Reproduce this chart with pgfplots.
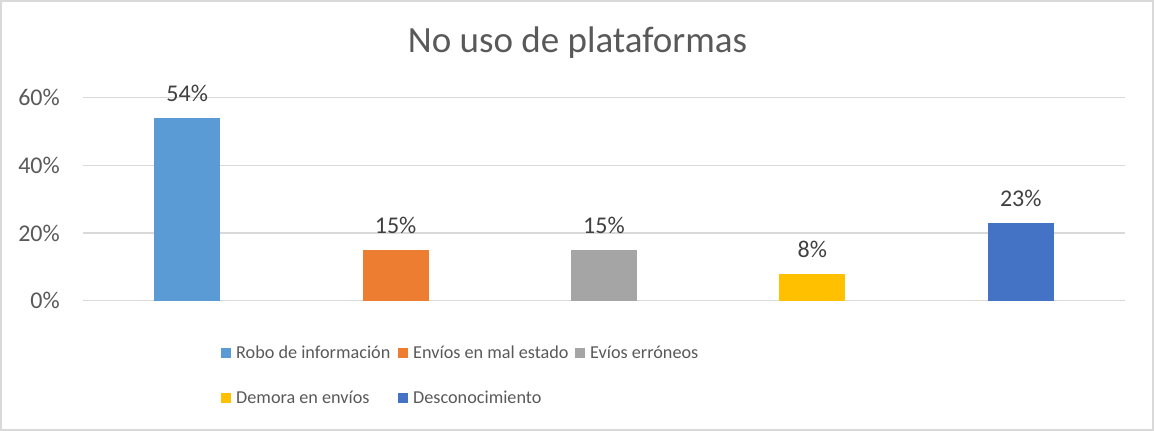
\documentclass[border=0pt]{standalone}
\usepackage{fontspec}
\setmainfont{Carlito}
\usepackage{pgfplots}
\pgfplotsset{compat=1.18}
\definecolor{c1}{HTML}{5B9BD5}
\definecolor{c2}{HTML}{ED7D31}
\definecolor{c3}{HTML}{A5A5A5}
\definecolor{c4}{HTML}{FFC000}
\definecolor{c5}{HTML}{4472C4}
\definecolor{txt}{HTML}{595959}
\definecolor{lbl}{HTML}{404040}
\definecolor{gridc}{HTML}{D9D9D9}
\begin{document}
\begin{tikzpicture}[x=1pt,y=1pt]
\useasboundingbox (0,0) rectangle (1154,431);
\draw[gridc, line width=1.5pt] (1,1) rectangle (1153,430);
\node[txt, anchor=base, inner sep=0pt, font=\fontsize{37}{42}\selectfont] at (577.5,378.3) {No uso de plataformas};
\begin{axis}[
  at={(83pt,130.3pt)}, anchor=south west,
  scale only axis, width=1042pt, height=203.2pt,
  xmin=-0.5, xmax=4.5, ymin=0, ymax=60,
  /pgf/number format/assume math mode=true,
  axis line style={draw=none},
  ymajorgrids, grid style={gridc, line width=1.3pt},
  xtick=\empty, ytick={0,20,40,60},
  yticklabel={\pgfmathprintnumber{\tick}\%},
  yticklabel style={txt, font=\fontsize{24}{28}\selectfont, inner sep=0pt, anchor=east, xshift=-23pt},
  tick style={draw=none},
  ybar, bar width=66pt,
  nodes near coords={\pgfmathprintnumber{\pgfplotspointmeta}\%},
  nodes near coords style={lbl, font=\fontsize{24}{28}\selectfont, anchor=base, yshift=16pt, inner sep=0pt},
  legend columns=3,
  legend image code/.code={\fill[#1, draw=none] (0pt,-5pt) rectangle (10pt,5pt);},
  legend style={at={(0.1296,-0.368)}, anchor=west, draw=none, fill=none,
    font=\fontsize{18.2}{22}\selectfont, text=txt, row sep=31pt, column sep=0pt,
    nodes={inner sep=0pt, anchor=west, fill=none}},
]
\addplot[fill=c1, draw=none, bar shift=0pt] coordinates {(0,54)};
\addlegendentry{\hspace{5pt}\makebox[162pt][l]{Robo de información}}
\addplot[fill=c2, draw=none, bar shift=0pt] coordinates {(1,15)};
\addlegendentry{\hspace{5pt}\makebox[162pt][l]{Envíos en mal estado}}
\addplot[fill=c3, draw=none, bar shift=0pt] coordinates {(2,15)};
\addlegendentry{\hspace{5pt}\makebox[162pt][l]{Evíos erróneos}}
\addplot[fill=c4, draw=none, bar shift=0pt] coordinates {(3,8)};
\addlegendentry{\hspace{5pt}\makebox[162pt][l]{Demora en envíos}}
\addplot[fill=c5, draw=none, bar shift=0pt] coordinates {(4,23)};
\addlegendentry{\hspace{5pt}\makebox[162pt][l]{Desconocimiento}}
\end{axis}
\end{tikzpicture}
\end{document}
